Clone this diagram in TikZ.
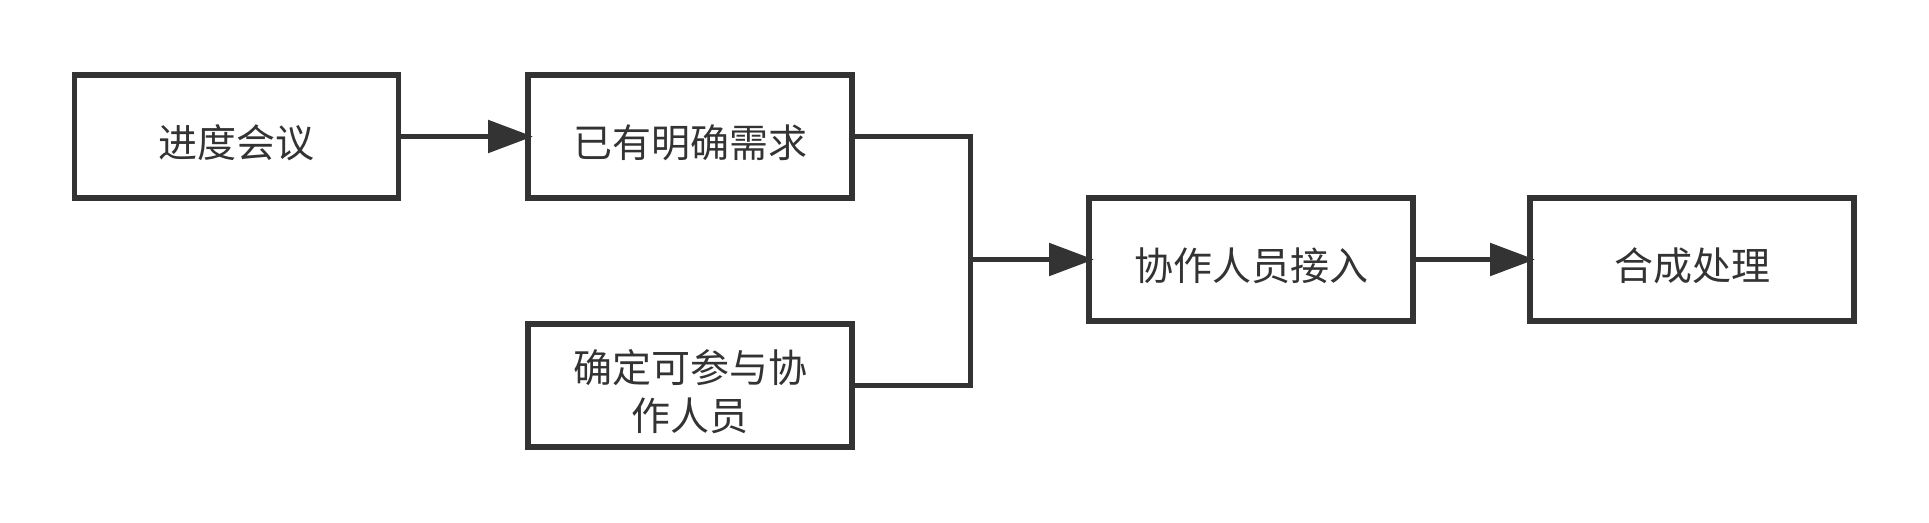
\documentclass[tikz,border=0pt]{standalone}
\usepackage{fontspec}
\setmainfont{Noto Sans CJK SC}
\usetikzlibrary{arrows.meta}
\definecolor{ink}{HTML}{333333}
\newcommand{\lowtext}[1]{\raisebox{-11pt}[\height][\depth]{\begin{tabular}{@{}c@{}}#1\end{tabular}}}
\tikzset{
  box/.style={draw=ink, line width=5.5pt, outer sep=0pt, minimum width=324pt, minimum height=123pt,
    inner sep=0pt, text=ink, font=\fontsize{39}{48}\selectfont},
  conn/.style={draw=ink, line width=5.5pt},
  arr/.style={conn, -{Triangle[length=45pt,width=32pt]}, shorten >=-5pt}
}
\begin{document}
\begin{tikzpicture}[x=1pt,y=-1pt]
\useasboundingbox (0,0) rectangle (1929,522);
\node[box] (a) at (236.5,136.5) {\lowtext{进度会议}};
\node[box] (b) at (690,136.5) {\lowtext{已有明确需求}};
\node[box] (c) at (690,385.5) {\lowtext{确定可参与协\\作人员}};
\node[box] (d) at (1251,259.5) {\lowtext{协作人员接入}};
\node[box] (e) at (1692,259.5) {\lowtext{合成处理}};
\coordinate (j) at (970.5,259.5);
\draw[arr] (a.east) -- (b.west);
\draw[conn] (b.east) -| (j);
\draw[conn] (c.east) -| (j);
\draw[arr] (j) -- (d.west);
\draw[arr] (d.east) -- (e.west);
\end{tikzpicture}
\end{document}
